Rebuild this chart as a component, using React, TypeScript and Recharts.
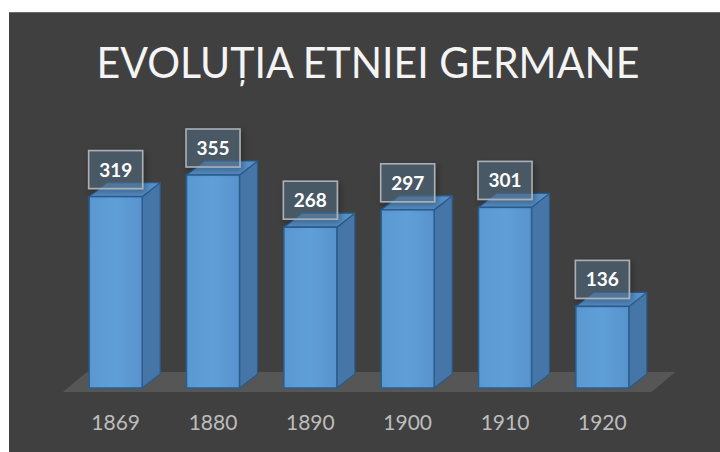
import React from 'react';
import { BarChart, Bar, XAxis, YAxis, LabelList } from 'recharts';

const title = 'EVOLUȚIA ETNIEI GERMANE';
const categories = ['1869', '1880', '1890', '1900', '1910', '1920'];
const values = [319, 355, 268, 297, 301, 136];
const yDomain = [0, 400];

const data = categories.map((c, i) => ({ year: c, value: values[i] }));

const DX = 18;
const DY = 14;
const GAP = 0.228; // per side

const Bar3D = (props: any) => {
  const { x, y, width, height, index } = props;
  if (width == null || height == null) return null;
  const band = width / (1 - 2 * GAP);
  const bottom = y + height;
  let floor = null;
  if (index === 0) {
    const left = x + width / 2 - band / 2 - 4;
    const right = x + width / 2 - band / 2 + band * data.length;
    const fy = bottom + 4;
    const fdx = 24;
    const fdy = 20;
    floor = (
      <polygon
        points={`${left},${fy} ${right},${fy} ${right + fdx},${fy - fdy} ${left + fdx},${fy - fdy}`}
        fill="#565656"
      />
    );
  }
  const r = x + width;
  return (
    <g>
      {floor}
      <polygon
        points={`${r},${y} ${r + DX},${y - DY} ${r + DX},${bottom - DY} ${r},${bottom}`}
        fill="#4676a8"
        stroke="#2b5a8a"
        strokeWidth={1.2}
        strokeLinejoin="round"
      />
      <polygon
        points={`${x},${y} ${x + DX},${y - DY} ${r + DX},${y - DY} ${r},${y}`}
        fill="#5790c8"
        stroke="#2b5a8a"
        strokeWidth={1.2}
        strokeLinejoin="round"
      />
      <rect x={x} y={y} width={width} height={height} fill="url(#frontGrad)" stroke="#2a5d90" strokeWidth={1.5} />
    </g>
  );
};

const ValueLabel = (props: any) => {
  const { x, y, width, value, index } = props;
  const bw = 54;
  const bh = 38;
  const bx = x + width / 2 - bw / 2;
  const by = y - 8 - bh;
  const fid = `lblShadow${index}`;
  return (
    <g>
      <defs>
        <filter id={fid} x="-30%" y="-30%" width="160%" height="160%">
          <feDropShadow dx={2} dy={3} stdDeviation={3} floodColor="#000" floodOpacity={0.45} />
        </filter>
      </defs>
      <rect x={bx} y={by} width={bw} height={bh} fill="rgba(88,112,138,0.5)" stroke="#aab0b6" strokeWidth={1.6} filter={`url(#${fid})`} />
      <text
        x={bx + bw / 2}
        y={by + bh / 2 + 7}
        textAnchor="middle"
        fill="#ffffff"
        fontSize={19}
        fontWeight={700}
        fontFamily="Lato, 'Open Sans', sans-serif"
      >
        {value}
      </text>
    </g>
  );
};

const YearTick = (props: any) => {
  const { x, y, payload } = props;
  return (
    <text x={x} y={y} dy={42} textAnchor="middle" fill="#bdbdbd" fontSize={21} fontFamily="Lato, 'Open Sans', sans-serif">
      {payload.value}
    </text>
  );
};

export default function App() {
  return (
    <div style={{ position: 'absolute', left: 0, top: 0, width: 720, height: 452, background: '#ffffff', overflow: 'hidden' }}>
      <div style={{ position: 'absolute', left: 9, top: 12, width: 711, height: 440, background: '#404040', borderTop: '1px solid #6a6a6a', boxSizing: 'border-box' }}>
        <BarChart
          width={711}
          height={440}
          data={data}
          margin={{ top: 136, right: 69, bottom: 0, left: 58 }}
          barCategoryGap="22.8%"
          style={{ position: 'absolute', left: 0, top: -1 }}
        >
          <defs>
            <linearGradient id="frontGrad" x1="0" y1="0" x2="1" y2="0">
              <stop offset="0%" stopColor="#5a98d2" />
              <stop offset="50%" stopColor="#5f9fd8" />
              <stop offset="100%" stopColor="#5893cc" />
            </linearGradient>
          </defs>
          <XAxis
            dataKey="year"
            axisLine={false}
            tickLine={false}
            tickSize={0}
            tickMargin={0}
            height={64}
            interval={0}
            tick={<YearTick />}
          />
          <YAxis hide domain={yDomain} width={0} />
          <Bar dataKey="value" shape={<Bar3D />} isAnimationActive={false}>
            <LabelList dataKey="value" content={<ValueLabel />} />
          </Bar>
        </BarChart>
      </div>
      <svg width={720} height={452} style={{ position: 'absolute', left: 0, top: 0, pointerEvents: 'none' }}>
        <text
          x={368}
          y={78}
          textAnchor="middle"
          fill="#f4f4f4"
          fontSize={42}
          fontWeight={400}
          fontFamily="Lato, 'Open Sans', sans-serif"
          textLength={543}
          lengthAdjust="spacingAndGlyphs"
        >
          {title}
        </text>
      </svg>
    </div>
  );
}
